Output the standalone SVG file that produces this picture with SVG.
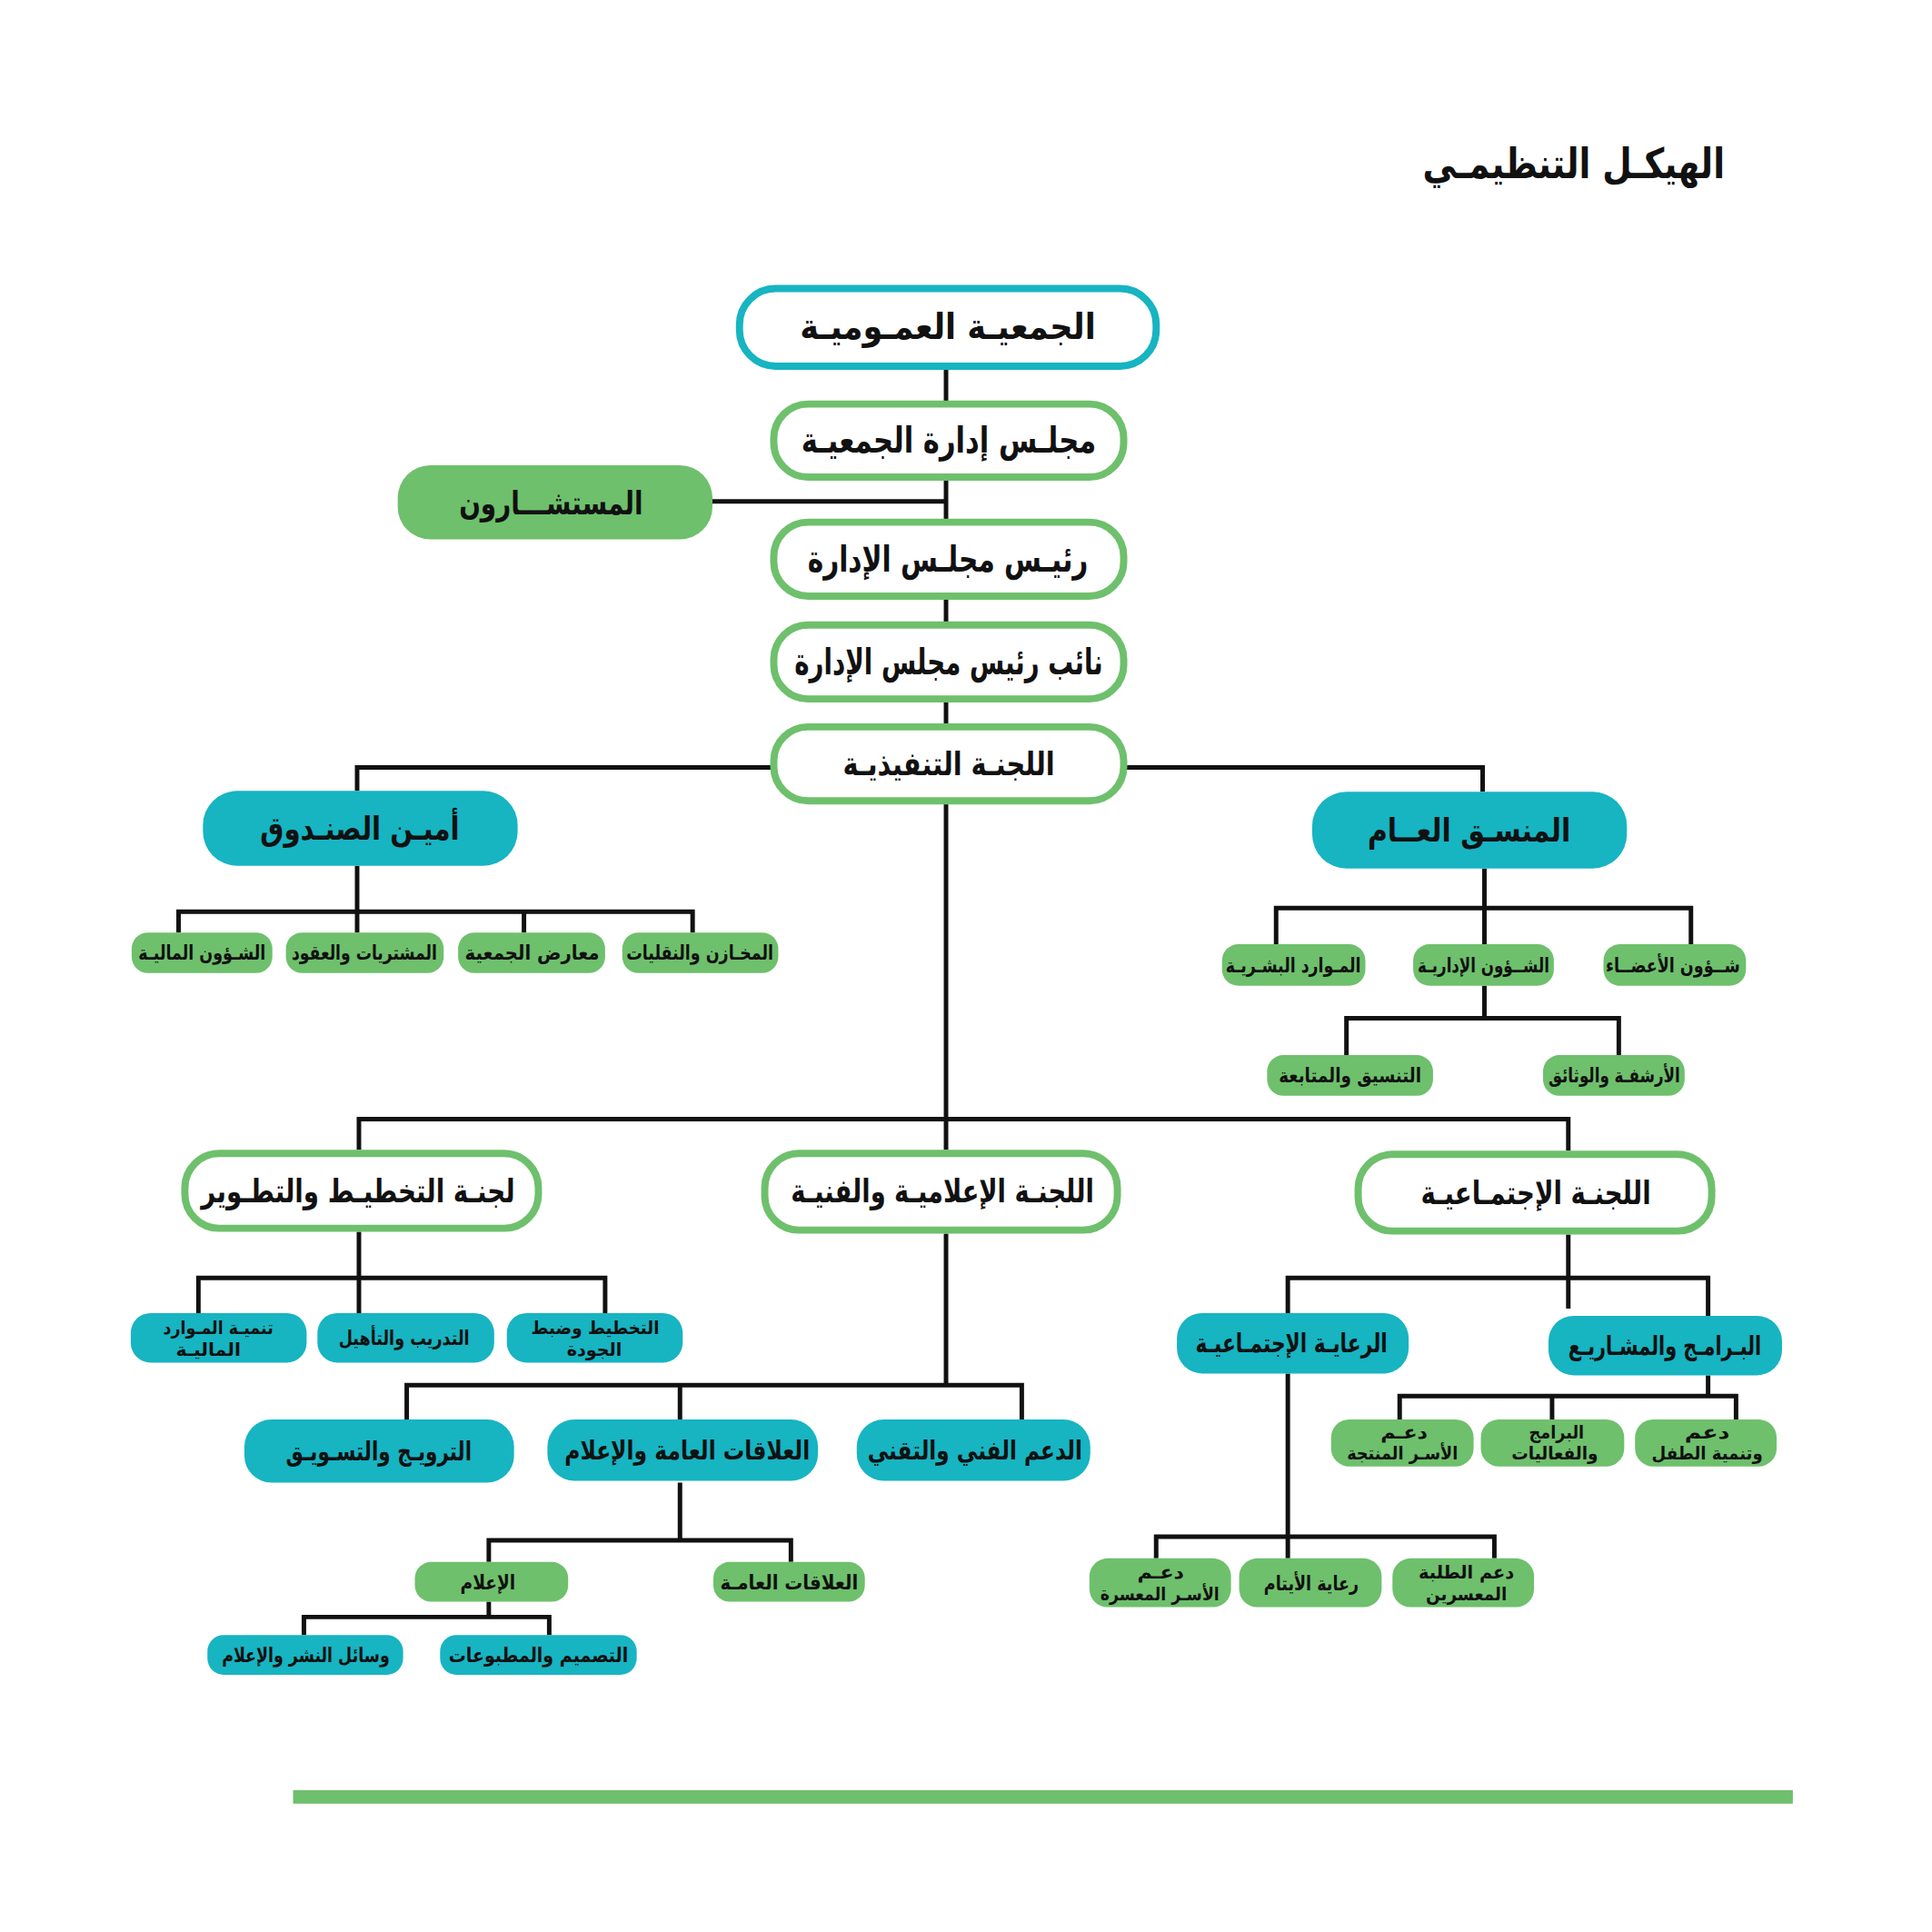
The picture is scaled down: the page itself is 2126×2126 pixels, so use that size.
<svg xmlns="http://www.w3.org/2000/svg" width="2126" height="2126" viewBox="0 0 2126 2126">
<style>
text{font-family:"DejaVu Sans","Noto Sans",sans-serif;font-weight:bold;fill:#111;text-anchor:middle;direction:rtl}
.oc{fill:#fff;stroke:#17b4c2;stroke-width:8}
.og{fill:#fff;stroke:#6ec06c;stroke-width:8}
.fc{fill:#17b4c2}
.fg{fill:#6ec06c}
.cn{fill:none;stroke:#111;stroke-width:5;stroke-linejoin:miter}
.t1{font-size:40px}
.t2{font-size:36px}
.t3{font-size:29px}
.t4{font-size:22px}
.t5{font-size:20px}
</style>
<rect width="2126" height="2126" fill="#fff"/>
<g transform="scale(0.9924)">
<text x="1745" y="198" style="font-size:46px" textLength="335" lengthAdjust="spacingAndGlyphs">الهيكـل التنظيمـي</text>
<g id="connectors">
<path class="cn" d="M1049 410 V1241"/>
<path class="cn" d="M790 556 H1049"/>
<path class="cn" d="M396 877 V851 H1644 V878"/>
<path class="cn" d="M396 960 V1034 M198 1034 V1011 H768 V1034 M581 1011 V1034"/>
<path class="cn" d="M1646 963 V1047 M1415 1047 V1007 H1875 V1047"/>
<path class="cn" d="M1646 1093 V1129 M1493 1170 V1129 H1795 V1170"/>
<path class="cn" d="M398 1275 V1241 H1739 V1276 M1049 1241 V1275"/>
<path class="cn" d="M398 1366 V1456 M220 1456 V1417 H671 V1456"/>
<path class="cn" d="M1049 1368 V1536 M451 1574 V1536 H1133 V1574 M754 1536 V1574"/>
<path class="cn" d="M754 1644 V1708 M542 1732 V1708 H877 V1732"/>
<path class="cn" d="M542 1776 V1793 M337 1813 V1793 H609 V1813"/>
<path class="cn" d="M1739 1369 V1451 M1428 1456 V1417 H1894 V1459"/>
<path class="cn" d="M1894 1525 V1548 M1552 1574 V1548 H1925 V1574 M1721 1548 V1574"/>
<path class="cn" d="M1428 1523 V1728 M1282 1728 V1704 H1657 V1728"/>
</g>
<g id="n-general-assembly"><rect class="oc" x="820" y="320" width="462" height="86" rx="40"/><text class="t1" x="1051" y="376" textLength="328" lengthAdjust="spacingAndGlyphs">الجمعيـة العمـوميـة</text></g>
<g id="n-board"><rect class="og" x="858" y="448" width="388" height="81" rx="38"/><text class="t1" x="1052" y="502" textLength="327" lengthAdjust="spacingAndGlyphs">مجلـس إدارة الجمعيـة</text></g>
<g id="n-advisors"><rect class="fg" x="441" y="516" width="349" height="82" rx="36"/><text class="t2" x="611" y="570" textLength="204" lengthAdjust="spacingAndGlyphs">المستشـــارون</text></g>
<g id="n-chairman"><rect class="og" x="858" y="579" width="388" height="82" rx="38"/><text class="t1" x="1051" y="634" textLength="311" lengthAdjust="spacingAndGlyphs">رئيـس مجلـس  الإدارة</text></g>
<g id="n-vice"><rect class="og" x="858" y="693" width="388" height="82" rx="38"/><text class="t1" x="1052" y="748" textLength="342" lengthAdjust="spacingAndGlyphs">نائب رئيس مجلس  الإدارة</text></g>
<g id="n-executive"><rect class="og" x="858" y="806" width="388" height="82" rx="38"/><text class="t2" x="1052" y="860" textLength="235" lengthAdjust="spacingAndGlyphs">اللجنـة التنفيذيـة</text></g>
<g id="n-treasurer"><rect class="fc" x="225" y="877" width="349" height="83" rx="38"/><text class="t2" x="399" y="931" textLength="221" lengthAdjust="spacingAndGlyphs">أميـن الصنـدوق</text></g>
<g id="n-coordinator"><rect class="fc" x="1455" y="878" width="349" height="85" rx="38"/><text class="t2" x="1629" y="933" textLength="225" lengthAdjust="spacingAndGlyphs">المنسـق العــام</text></g>
<g id="n-t1"><rect class="fg" x="146" y="1034" width="156" height="45" rx="18"/><text class="t4" x="224" y="1064" textLength="141" lengthAdjust="spacingAndGlyphs">الشـؤون الماليـة</text></g>
<g id="n-t2"><rect class="fg" x="317" y="1034" width="175" height="45" rx="18"/><text class="t4" x="404" y="1064" textLength="161" lengthAdjust="spacingAndGlyphs">المشتريات والعقود</text></g>
<g id="n-t3"><rect class="fg" x="508" y="1034" width="163" height="45" rx="18"/><text class="t4" x="590" y="1064" textLength="149" lengthAdjust="spacingAndGlyphs">معارض الجمعية</text></g>
<g id="n-t4"><rect class="fg" x="690" y="1034" width="173" height="45" rx="18"/><text class="t4" x="776" y="1064" textLength="163" lengthAdjust="spacingAndGlyphs">المخـازن والنقليات</text></g>
<g id="n-c1"><rect class="fg" x="1355" y="1047" width="159" height="46" rx="18"/><text class="t4" x="1434" y="1078" textLength="150" lengthAdjust="spacingAndGlyphs">المـوارد البشـريـة</text></g>
<g id="n-c2"><rect class="fg" x="1567" y="1047" width="156" height="46" rx="18"/><text class="t4" x="1645" y="1078" textLength="146" lengthAdjust="spacingAndGlyphs">الشــؤون الإداريـة</text></g>
<g id="n-c3"><rect class="fg" x="1778" y="1047" width="158" height="46" rx="18"/><text class="t4" x="1855" y="1078" textLength="149" lengthAdjust="spacingAndGlyphs">شــؤون الأعضــاء</text></g>
<g id="n-c21"><rect class="fg" x="1405" y="1170" width="184" height="45" rx="18"/><text class="t4" x="1497" y="1200" textLength="158" lengthAdjust="spacingAndGlyphs">التنسيق والمتابعة</text></g>
<g id="n-c22"><rect class="fg" x="1711" y="1170" width="157" height="45" rx="18"/><text class="t4" x="1790" y="1200" textLength="146" lengthAdjust="spacingAndGlyphs">الأرشفـة والوثائق</text></g>
<g id="n-planning"><rect class="og" x="205" y="1279" width="392" height="83" rx="38"/><text class="t2" x="397" y="1333" textLength="348" lengthAdjust="spacingAndGlyphs">لجنـة التخطيـط والتطـوير</text></g>
<g id="n-media"><rect class="og" x="848" y="1279" width="391" height="85" rx="38"/><text class="t2" x="1045" y="1333" textLength="336" lengthAdjust="spacingAndGlyphs">اللجنـة الإعلاميـة والفنيـة</text></g>
<g id="n-social"><rect class="og" x="1506" y="1280" width="392" height="85" rx="38"/><text class="t2" x="1703" y="1335" textLength="255" lengthAdjust="spacingAndGlyphs">اللجنـة الإجتمـاعيـة</text></g>
<g id="n-p1"><rect class="fc" x="145" y="1456" width="195" height="55" rx="22"/><text class="t5" x="242" y="1479" textLength="122" lengthAdjust="spacingAndGlyphs">تنميـة المـوارد</text><text class="t5" x="231" y="1503" textLength="72" lengthAdjust="spacingAndGlyphs">الماليـة</text></g>
<g id="n-p2"><rect class="fc" x="352" y="1456" width="196" height="55" rx="22"/><text class="t4" x="448" y="1491" textLength="145" lengthAdjust="spacingAndGlyphs">التدريب والتأهيل</text></g>
<g id="n-p3"><rect class="fc" x="562" y="1456" width="195" height="55" rx="22"/><text class="t5" x="660" y="1479" textLength="142" lengthAdjust="spacingAndGlyphs">التخطيط وضبط</text><text class="t5" x="659" y="1503" textLength="61" lengthAdjust="spacingAndGlyphs">الجودة</text></g>
<g id="n-m1"><rect class="fc" x="271" y="1574" width="299" height="70" rx="30"/><text class="t3" x="420" y="1619" textLength="206" lengthAdjust="spacingAndGlyphs">الترويـج والتسـويـق</text></g>
<g id="n-m2"><rect class="fc" x="607" y="1574" width="300" height="68" rx="30"/><text class="t3" x="762" y="1618" textLength="272" lengthAdjust="spacingAndGlyphs">العلاقات العامة والإعلام</text></g>
<g id="n-m3"><rect class="fc" x="950" y="1574" width="259" height="68" rx="30"/><text class="t3" x="1081" y="1618" textLength="238" lengthAdjust="spacingAndGlyphs">الدعم الفني والتقني</text></g>
<g id="n-m21"><rect class="fg" x="460" y="1732" width="170" height="44" rx="18"/><text class="t4" x="541" y="1762" textLength="61" lengthAdjust="spacingAndGlyphs">الإعلام</text></g>
<g id="n-m22"><rect class="fg" x="791" y="1732" width="168" height="44" rx="18"/><text class="t4" x="875" y="1762" textLength="153" lengthAdjust="spacingAndGlyphs">العلاقات العامـة</text></g>
<g id="n-m211"><rect class="fc" x="230" y="1813" width="217" height="44" rx="18"/><text class="t4" x="339" y="1843" textLength="186" lengthAdjust="spacingAndGlyphs">وسائل النشر والإعلام</text></g>
<g id="n-m212"><rect class="fc" x="488" y="1813" width="218" height="44" rx="18"/><text class="t4" x="597" y="1843" textLength="199" lengthAdjust="spacingAndGlyphs">التصميم والمطبوعات</text></g>
<g id="n-care"><rect class="fc" x="1305" y="1456" width="257" height="67" rx="28"/><text class="t3" x="1432" y="1499" textLength="213" lengthAdjust="spacingAndGlyphs">الرعايـة الإجتمـاعيـة</text></g>
<g id="n-programs"><rect class="fc" x="1717" y="1459" width="259" height="66" rx="28"/><text class="t3" x="1846" y="1502" textLength="214" lengthAdjust="spacingAndGlyphs">البـرامـج والمشـاريـع</text></g>
<g id="n-g1"><rect class="fg" x="1476" y="1574" width="158" height="52" rx="20"/><text class="t5" x="1557" y="1595" textLength="52" lengthAdjust="spacingAndGlyphs">دعـم</text><text class="t5" x="1555" y="1618" textLength="123" lengthAdjust="spacingAndGlyphs">الأسـر المنتجة</text></g>
<g id="n-g2"><rect class="fg" x="1642" y="1574" width="159" height="52" rx="20"/><text class="t5" x="1726" y="1595" textLength="61" lengthAdjust="spacingAndGlyphs">البرامج</text><text class="t5" x="1724" y="1618" textLength="96" lengthAdjust="spacingAndGlyphs">والفعاليات</text></g>
<g id="n-g3"><rect class="fg" x="1813" y="1574" width="157" height="52" rx="20"/><text class="t5" x="1893" y="1595" textLength="50" lengthAdjust="spacingAndGlyphs">دعم</text><text class="t5" x="1893" y="1618" textLength="123" lengthAdjust="spacingAndGlyphs">وتنمية الطفل</text></g>
<g id="n-r1"><rect class="fg" x="1208" y="1728" width="157" height="54" rx="20"/><text class="t5" x="1287" y="1750" textLength="52" lengthAdjust="spacingAndGlyphs">دعـم</text><text class="t5" x="1286" y="1774" textLength="132" lengthAdjust="spacingAndGlyphs">الأسـر المعسرة</text></g>
<g id="n-r2"><rect class="fg" x="1374" y="1728" width="158" height="54" rx="20"/><text class="t4" x="1454" y="1763" textLength="105" lengthAdjust="spacingAndGlyphs">رعاية الأيتام</text></g>
<g id="n-r3"><rect class="fg" x="1544" y="1728" width="157" height="54" rx="20"/><text class="t5" x="1626" y="1750" textLength="106" lengthAdjust="spacingAndGlyphs">دعم الطلبة</text><text class="t5" x="1626" y="1774" textLength="90" lengthAdjust="spacingAndGlyphs">المعسرين</text></g>
<rect class="fg" x="325" y="1985" width="1663" height="15"/>
</g>
</svg>
